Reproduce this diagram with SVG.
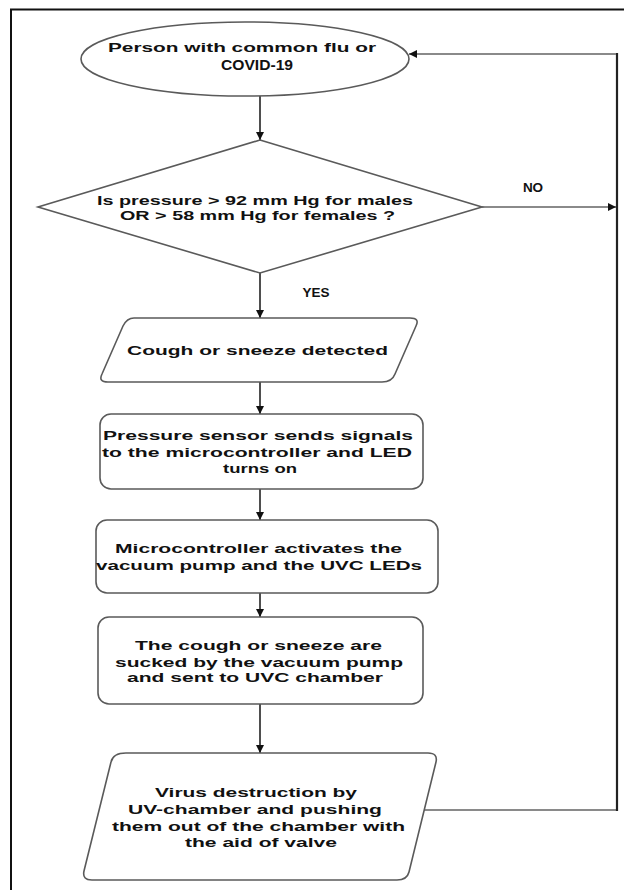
<svg xmlns="http://www.w3.org/2000/svg" width="624" height="890" viewBox="0 0 624 890">
<defs>
<style>
.shape{fill:#ffffff;stroke:#5a5a5a;stroke-width:1.6}
.conn{fill:none;stroke:#222;stroke-width:1.6}
.loop{fill:none;stroke:#8a8a8a;stroke-width:2}
.t{font-family:"Liberation Sans",Arial,sans-serif;font-weight:bold;font-size:13.5px;fill:#111;text-anchor:middle}
</style>
<marker id="ah" viewBox="0 0 10 10" refX="10" refY="5" markerWidth="8" markerHeight="8" markerUnits="userSpaceOnUse" orient="auto">
<path d="M0,0 L10,5 L0,10 Z" fill="#111"/>
</marker>
</defs>
<rect width="624" height="890" fill="#ffffff"/>
<g id="frame">
<path d="M11,890 V9.5 H624" fill="none" stroke="#111" stroke-width="2"/>
</g>
<g id="connectors">
<line class="conn" x1="260" y1="96" x2="260" y2="140" marker-end="url(#ah)"/>
<line class="conn" x1="260" y1="273" x2="260" y2="318" marker-end="url(#ah)"/>
<line class="conn" x1="260" y1="382" x2="260" y2="414" marker-end="url(#ah)"/>
<line class="conn" x1="260" y1="489" x2="260" y2="520" marker-end="url(#ah)"/>
<line class="conn" x1="260" y1="593" x2="260" y2="617" marker-end="url(#ah)"/>
<line class="conn" x1="260" y1="704" x2="260" y2="753" marker-end="url(#ah)"/>
<line class="loop" x1="482" y1="207" x2="616" y2="207" marker-end="url(#ah)"/>
<path class="loop" d="M421,810 H616"/>
<path d="M617,811 V53" fill="none" stroke="#222" stroke-width="2.2"/>
<path class="loop" d="M616,54 H409" marker-end="url(#ah)"/>
<text class="t" x="533" y="192">NO</text>
<text class="t" x="316" y="297">YES</text>
</g>
<g id="start">
<ellipse class="shape" cx="245" cy="59" rx="164" ry="37"/>
<text class="t" x="242" y="52" textLength="268" lengthAdjust="spacingAndGlyphs">Person with common flu or</text>
<text class="t" x="257" y="70" style="font-size:14.5px" textLength="72" lengthAdjust="spacingAndGlyphs">COVID-19</text>
</g>
<g id="decision">
<polygon class="shape" points="260,140 482,207 260,273 38,207"/>
<text class="t" x="255" y="205" textLength="316" lengthAdjust="spacingAndGlyphs">Is pressure  &gt; 92 mm Hg for males</text>
<text class="t" x="257.5" y="220" textLength="275" lengthAdjust="spacingAndGlyphs">OR &gt; 58  mm Hg for females ?</text>
</g>
<g id="cough">
<path class="shape" d="M134,318 H410 Q420,318 416,326 L395,374 Q392,382 382,382 H108 Q98,382 102,374 L123,326 Q127,318 134,318 Z"/>
<text class="t" x="257.5" y="355" textLength="261" lengthAdjust="spacingAndGlyphs">Cough or sneeze detected</text>
</g>
<g id="sensor">
<rect class="shape" x="100" y="414" width="323" height="75" rx="11"/>
<text class="t" x="258" y="440" textLength="310" lengthAdjust="spacingAndGlyphs">Pressure sensor sends signals</text>
<text class="t" x="257" y="457" textLength="310" lengthAdjust="spacingAndGlyphs">to the microcontroller and LED</text>
<text class="t" x="260" y="473" textLength="74" lengthAdjust="spacingAndGlyphs">turns on</text>
</g>
<g id="micro">
<rect class="shape" x="96" y="520" width="342" height="73" rx="11"/>
<text class="t" x="258.5" y="553" textLength="287" lengthAdjust="spacingAndGlyphs">Microcontroller activates the</text>
<text class="t" x="259" y="570" textLength="326" lengthAdjust="spacingAndGlyphs">vacuum pump and the UVC LEDs</text>
</g>
<g id="suck">
<rect class="shape" x="98" y="617" width="325" height="87" rx="11"/>
<text class="t" x="258.5" y="650" textLength="247" lengthAdjust="spacingAndGlyphs">The cough or sneeze are</text>
<text class="t" x="259" y="667" textLength="288" lengthAdjust="spacingAndGlyphs">sucked by the vacuum pump</text>
<text class="t" x="255" y="682" textLength="256" lengthAdjust="spacingAndGlyphs">and sent to UVC chamber</text>
</g>
<g id="destroy">
<path class="shape" d="M126,753 H428 Q438,753 436,762 L409,872 Q407,880 397,880 H92 Q82,880 84,871 L111,762 Q113,753 126,753 Z"/>
<text class="t" x="256" y="797" textLength="202" lengthAdjust="spacingAndGlyphs">Virus destruction by</text>
<text class="t" x="255" y="814" textLength="254" lengthAdjust="spacingAndGlyphs">UV-chamber and pushing</text>
<text class="t" x="258.5" y="831" textLength="293" lengthAdjust="spacingAndGlyphs">them out of the chamber with</text>
<text class="t" x="261" y="847" textLength="152" lengthAdjust="spacingAndGlyphs">the aid of valve</text>
</g>
</svg>
